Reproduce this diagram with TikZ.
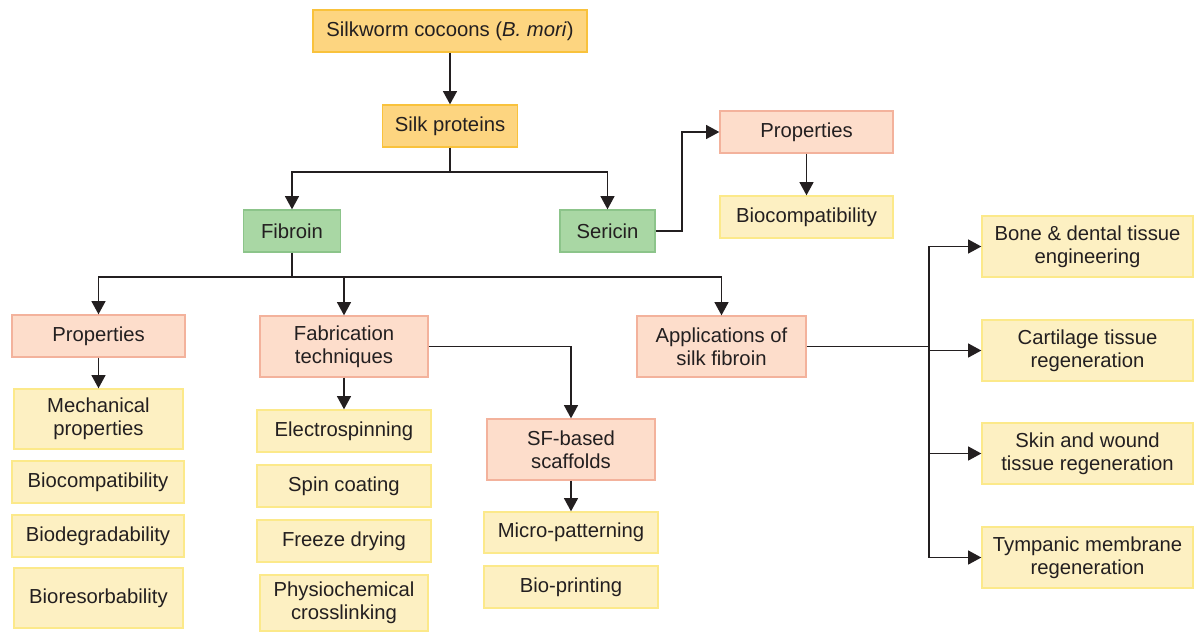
\documentclass[tikz,border=0pt]{standalone}
\usepackage{fontspec}
\setmainfont{Liberation Sans}
\usetikzlibrary{arrows.meta}
\definecolor{txt}{HTML}{231F20}
\definecolor{orF}{HTML}{FDD580}
\definecolor{orD}{HTML}{F9C23C}
\definecolor{grF}{HTML}{A9D7A4}
\definecolor{grD}{HTML}{8CC48A}
\definecolor{saF}{HTML}{FDDDCB}
\definecolor{saD}{HTML}{F3B29C}
\definecolor{yeF}{HTML}{FDF0C2}
\definecolor{yeD}{HTML}{FCE98A}
\begin{document}
\begin{tikzpicture}[x=0.75pt,y=-0.75pt,
  base/.style={rectangle,inner sep=0pt,line width=1pt,align=center,text=txt,
    font=\fontsize{15.2}{17.5}\selectfont},
  wh/.style 2 args={minimum width=#1*0.75pt,minimum height=#2*0.75pt},
  boxO/.style={base,fill=orF,draw=orD},
  boxG/.style={base,fill=grF,draw=grD},
  boxS/.style={base,fill=saF,draw=saD},
  boxY/.style={base,fill=yeF,draw=yeD},
  conn/.style={draw=txt,line width=1.3pt},
  arr/.style={conn,-{Triangle[width=10.5pt,length=10pt]}}]
\useasboundingbox (0,0) rectangle (1194,632);
% nodes
\node[boxO,wh={274}{42}] (cocoon) at (450,31) {Silkworm cocoons (\textit{B. mori})};
\node[boxO,wh={135}{42}] (proteins) at (450,126) {Silk proteins};
\node[boxG,wh={97}{42}] (fibroin) at (292,231) {Fibroin};
\node[boxG,wh={95}{42}] (sericin) at (607.5,231) {Sericin};
\node[boxS,wh={173}{42}] (sprop) at (806.5,132) {Properties};
\node[boxY,wh={173}{42}] (sbio) at (806.5,217) {Biocompatibility};
\node[boxS,wh={173}{42}] (fprop) at (98.5,336) {Properties};
\node[boxS,wh={168}{61}] (fab) at (344,346.5) {Fabrication\\techniques};
\node[boxS,wh={169}{61}] (app) at (721.5,346.5) {Applications of\\silk fibroin};
\node[boxY,wh={169}{60}] (mech) at (98.5,419) {Mechanical\\properties};
\node[boxY,wh={172}{42}] (fbio) at (98,482) {Biocompatibility};
\node[boxY,wh={172}{42}] (fdeg) at (98,536) {Biodegradability};
\node[boxY,wh={169}{60}] (fres) at (98.5,598) {Bioresorbability};
\node[boxY,wh={174}{42}] (elec) at (344,431) {Electrospinning};
\node[boxY,wh={174}{42}] (spin) at (344,486) {Spin coating};
\node[boxY,wh={174}{42}] (freeze) at (344,541) {Freeze drying};
\node[boxY,wh={168}{56}] (phys) at (344,603) {Physiochemical\\crosslinking};
\node[boxS,wh={168}{61}] (sf) at (571,449.5) {SF-based\\scaffolds};
\node[boxY,wh={174}{41}] (micro) at (571,532.5) {Micro-patterning};
\node[boxY,wh={174}{42}] (bioprint) at (571,587) {Bio-printing};
\node[boxY,wh={211}{61}] (bone) at (1087.5,246.5) {Bone \& dental tissue\\engineering};
\node[boxY,wh={211}{61}] (cart) at (1087.5,350.5) {Cartilage tissue\\regeneration};
\node[boxY,wh={211}{61}] (skin) at (1087.5,453.5) {Skin and wound\\tissue regeneration};
\node[boxY,wh={211}{61}] (tymp) at (1087.5,557.5) {Tympanic membrane\\regeneration};
% junctions
\coordinate (j1) at (450,172);
\coordinate (j2) at (292,277);
\coordinate (j3) at (929,346.5);
% connectors
\draw[arr] (cocoon) -- (proteins);
\draw[conn] (proteins.south) -- (j1);
\draw[arr] (j1) -| (fibroin.north);
\draw[arr] (j1) -| (sericin.north);
\draw[arr] (sericin.east) -- ++(26,0) |- (sprop.west);
\draw[arr] (sprop) -- (sbio);
\draw[conn] (fibroin.south) -- (j2);
\draw[arr] (j2) -| (fprop.north);
\draw[arr] (j2) -| (fab.north);
\draw[arr] (j2) -| (app.north);
\draw[arr] (fprop) -- (mech);
\draw[arr] (fab) -- (elec);
\draw[arr] (fab.east) -| (sf.north);
\draw[arr] (sf) -- (micro);
\draw[conn] (app.east) -- (j3);
\draw[arr] (j3) |- (bone.west);
\draw[arr] (j3) |- (cart.west);
\draw[arr] (j3) |- (skin.west);
\draw[arr] (j3) |- (tymp.west);
\end{tikzpicture}
\end{document}
